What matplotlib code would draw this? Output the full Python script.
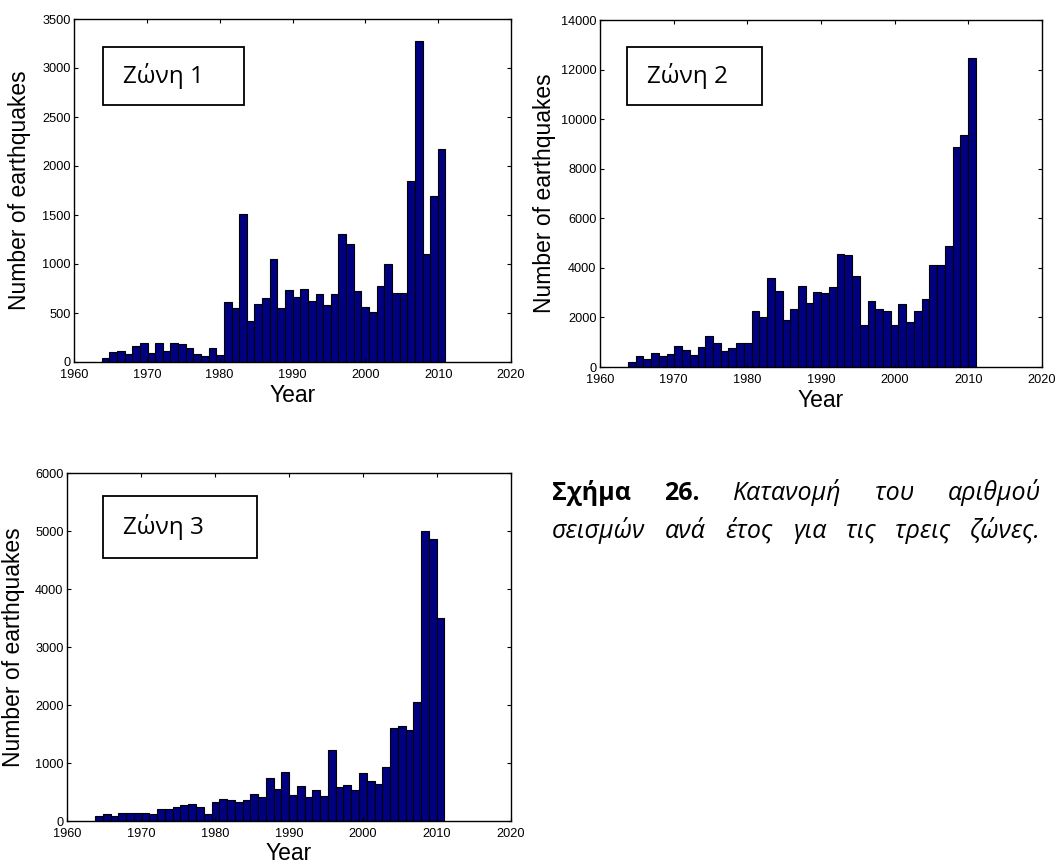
import numpy as np
from matplotlib import pyplot as plt
from matplotlib.patches import Rectangle

# earthquakes per bin (45 bins, 1964-2011)
zone1 = [41, 102, 112, 78, 160, 197, 92, 197, 112, 197, 187, 143, 82, 61, 143,
         71, 616, 555, 1508, 422, 596, 657, 1055, 555, 739, 667, 749, 626, 698,
         585, 698, 1310, 1201, 728, 565, 514, 779, 1004, 708, 708, 1851, 3271,
         1099, 1698, 2178]
zone2 = [202, 444, 310, 565, 431, 525, 861, 686, 485, 821, 1265, 982, 646, 767,
         982, 955, 2248, 2005, 3607, 3082, 1884, 2332, 3271, 2574, 3029, 2989,
         3244, 4544, 4504, 3686, 1676, 2654, 2332, 2252, 1676, 2534, 1796, 2252,
         2735, 4129, 4129, 4866, 8861, 9357, 12453]
zone3 = [86, 127, 86, 144, 144, 144, 144, 121, 213, 213, 236, 270, 293, 236,
         121, 322, 374, 357, 328, 357, 466, 414, 742, 547, 850, 442, 597, 407,
         527, 424, 1231, 578, 619, 527, 825, 687, 641, 934, 1604, 1638, 1569,
         2045, 5000, 4863, 3505]
edges = np.linspace(1963.8, 2011.0, 46)

labels = ['Ζώνη 1', 'Ζώνη 2', 'Ζώνη 3']
ymax = [3500, 14000, 6000]
ystep = [500, 2000, 1000]
xticks = [1960, 1970, 1980, 1990, 2000, 2010, 2020]

W, H = 1058, 864
fig = plt.figure(figsize=(W / 100, H / 100), dpi=100)

# axes boxes in pixels: left, top, right, bottom
boxes = [(74, 19, 511, 362), (600, 20, 1042, 367), (67, 473, 511, 821)]
text_boxes = [(103, 47, 244, 105), (627, 47, 762, 105), (103, 496, 257, 558)]
ylab_x = [20, 544, 14]


def px(x, y):
    return x / W, 1 - y / H


for i, data in enumerate([zone1, zone2, zone3]):
    l, t, r, b = boxes[i]
    ax = fig.add_axes([l / W, 1 - b / H, (r - l) / W, (b - t) / H])
    ax.bar(edges[:-1], data, width=np.diff(edges), align='edge',
           color='#000080', edgecolor='black', linewidth=0.8)
    ax.set_xlim(1960, 2020)
    ax.set_ylim(0, ymax[i])
    ax.set_xticks(xticks)
    ax.set_yticks(np.arange(0, ymax[i] + 1, ystep[i]))
    ax.tick_params(direction='in', length=3, width=0.8, top=True, right=True,
                   labelsize=9.2, colors='black')
    ax.tick_params(axis='x', pad=5)
    ax.tick_params(axis='y', pad=2.5)
    for s in ax.spines.values():
        s.set_linewidth(1.0)
    for lab in ax.get_xticklabels() + ax.get_yticklabels():
        lab.set_family('Liberation Sans')

    # axis labels
    x0, y0 = px(ylab_x[i], (t + b) / 2)
    fig.text(x0, y0, 'Number of earthquakes', rotation=90, ha='center',
             va='center', fontsize=16.5, family='Liberation Sans')
    x1, y1 = px((l + r) / 2, b + 33)
    fig.text(x1, y1, 'Year', ha='center', va='center', fontsize=16.5,
             family='Liberation Sans')

    # zone label box
    bl, bt, br, bb = text_boxes[i]
    fig.patches.append(Rectangle(px(bl, bb), (br - bl) / W, (bb - bt) / H,
                                 transform=fig.transFigure, fill=True,
                                 facecolor='white', edgecolor='black',
                                 linewidth=1.3, zorder=5))
    tx, ty = px(bl + 20, (bt + bb) / 2)
    fig.text(tx, ty, labels[i], ha='left', va='center', fontsize=17.5,
             family='Open Sans', zorder=6)

# caption, both lines justified between cap_x0 and cap_x1
cap_x0, cap_x1 = 552, 1041
line1 = [('Σχήμα', 'bold', 'normal'), ('26.', 'bold', 'normal'),
         ('Κατανομή', 'normal', 'italic'), ('του', 'normal', 'italic'),
         ('αριθμού', 'normal', 'italic')]
line2 = [(w, 'normal', 'italic') for w in
         'σεισμών ανά έτος για τις τρεις ζώνες.'.split()]

renderer = fig.canvas.get_renderer()
for words, yy in [(line1, 493), (line2, 531)]:
    items = []
    for w, fw, st in words:
        x, y = px(cap_x0, yy)
        tt = fig.text(x, y, w, ha='left', va='center', fontsize=18,
                      family='Open Sans', fontweight=fw, fontstyle=st)
        items.append(tt)
    widths = [tt.get_window_extent(renderer).width for tt in items]
    gap = (cap_x1 - cap_x0 - sum(widths)) / (len(items) - 1)
    pos = cap_x0
    for tt, wd in zip(items, widths):
        tt.set_x(pos / W)
        pos += wd + gap

plt.savefig('out.png', dpi=100)
